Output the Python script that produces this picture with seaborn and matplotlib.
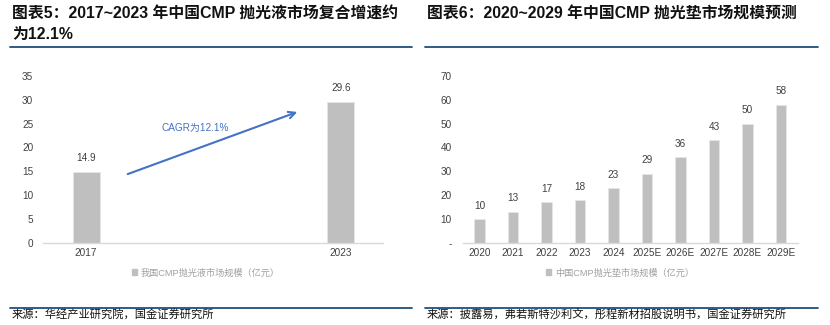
import matplotlib
matplotlib.use("Agg")
import matplotlib.pyplot as plt
import seaborn as sns
import pandas as pd
from matplotlib.patches import Patch

# ---- data ----
left_years = ["2017", "2023"]
left_values = [14.9, 29.6]
left_legend = "我国CMP抛光液市场规模（亿元）"
left_cagr = "CAGR为12.1%"

right_years = ["2020", "2021", "2022", "2023", "2024", "2025E", "2026E", "2027E", "2028E", "2029E"]
right_values = [10, 13, 17, 18, 23, 29, 36, 43, 50, 58]
right_legend = "中国CMP抛光垫市场规模（亿元）"

left_title_1 = "图表5：2017~2023 年中国CMP 抛光液市场复合增速约"
left_title_2 = "为12.1%"
right_title = "图表6：2020~2029 年中国CMP 抛光垫市场规模预测"
left_source = "来源：华经产业研究院，国金证券研究所"
right_source = "来源：披露易，弗若斯特沙利文，彤程新材招股说明书，国金证券研究所"

left_yticks = [0, 5, 10, 15, 20, 25, 30, 35]
right_yticks = [0, 10, 20, 30, 40, 50, 60, 70]
right_yticklabels = ["-", "10", "20", "30", "40", "50", "60", "70"]

sns.set_theme(style="white")
plt.rcParams["font.family"] = ["Liberation Sans", "Noto Sans CJK SC", "DejaVu Sans"]

BAR = "#BFBFBF"
TXT = "#404040"
RULE = "#1F4E79"

W, H = 830, 325
fig = plt.figure(figsize=(8.3, 3.25), dpi=100)

def fx(x):
    return x / W

def fy(y):
    return 1 - y / H

# axes
ax1 = fig.add_axes([fx(43), fy(242.7), fx(383) - fx(43), fy(76) - fy(242.7)])
ax2 = fig.add_axes([fx(463), fy(242.7), fx(798) - fx(463), fy(76) - fy(242.7)])

df1 = pd.DataFrame({"year": left_years, "value": left_values})
df2 = pd.DataFrame({"year": right_years, "value": right_values})

sns.barplot(data=df1, x="year", y="value", color=BAR, width=0.106, ax=ax1,
            edgecolor="#E6E6E6", linewidth=0.6, saturation=1)
sns.barplot(data=df2, x="year", y="value", color=BAR, width=0.32, ax=ax2,
            edgecolor="#E6E6E6", linewidth=0.6, saturation=1)

for ax in (ax1, ax2):
    ax.set_xlabel("")
    ax.set_ylabel("")
    for s in ("top", "right", "left"):
        ax.spines[s].set_visible(False)
    ax.spines["bottom"].set_color("#D9D9D9")
    ax.spines["bottom"].set_linewidth(1.0)
    ax.tick_params(axis="both", length=0, labelsize=7.2, colors=TXT, pad=4)
    ax.set_facecolor("none")

ax1.set_xlim(-0.169, 1.165)
ax1.set_ylim(0, 35)
ax1.set_yticks(left_yticks)
ax1.set_yticklabels([str(v) for v in left_yticks])
ax1.tick_params(axis="y", pad=7)

ax2.set_xlim(-0.49, 9.51)
ax2.set_ylim(0, 70)
ax2.set_yticks(right_yticks)
ax2.set_yticklabels(right_yticklabels)
ax2.tick_params(axis="y", pad=8)

for i, v in enumerate(left_values):
    ax1.annotate(f"{v:.1f}", (i, v), xytext=(0, 6), textcoords="offset points",
                 ha="center", va="bottom", fontsize=7.2, color=TXT)
for i, v in enumerate(right_values):
    ax2.annotate(f"{v:d}", (i, v), xytext=(0, 6), textcoords="offset points",
                 ha="center", va="bottom", fontsize=7.2, color=TXT)

# CAGR arrow
ax1.annotate("", xy=(0.839, 27.65), xytext=(0.153, 14.2),
             arrowprops=dict(arrowstyle="->", color="#4472C4", lw=1.5,
                             mutation_scale=12))
ax1.text(0.43, 24.0, left_cagr, ha="center", va="center", fontsize=7.2, color="#4472C4")

# legends
ax1.legend(handles=[Patch(color=BAR)], labels=[left_legend], loc="center",
           bbox_to_anchor=(fx(206), fy(273)), bbox_transform=fig.transFigure,
           frameon=False, fontsize=6.6, labelcolor="#A0A0A0",
           handlelength=0.6, handleheight=0.6, handletextpad=0.4)
ax2.legend(handles=[Patch(color=BAR)], labels=[right_legend], loc="center",
           bbox_to_anchor=(fx(620), fy(273)), bbox_transform=fig.transFigure,
           frameon=False, fontsize=6.6, labelcolor="#A0A0A0",
           handlelength=0.6, handleheight=0.6, handletextpad=0.4)

# titles
tkw = dict(fontsize=11.4, fontweight="bold", color="#111111", va="center", ha="left")
fig.text(fx(12), fy(13), left_title_1, **tkw)
fig.text(fx(12), fy(34), left_title_2, **tkw)
fig.text(fx(427), fy(13), right_title, **tkw)

# rules
for (x0, x1) in ((10, 412), (425, 818)):
    fig.add_artist(plt.Line2D([fx(x0), fx(x1)], [fy(47), fy(47)], color=RULE, lw=1.3))
    fig.add_artist(plt.Line2D([fx(x0), fx(x1)], [fy(308), fy(308)], color=RULE, lw=1.3))

skw = dict(fontsize=8.1, color="#111111", va="center", ha="left")
fig.text(fx(12), fy(315), left_source, **skw)
fig.text(fx(427), fy(315), right_source, **skw)

fig.savefig("out.png", dpi=100)
